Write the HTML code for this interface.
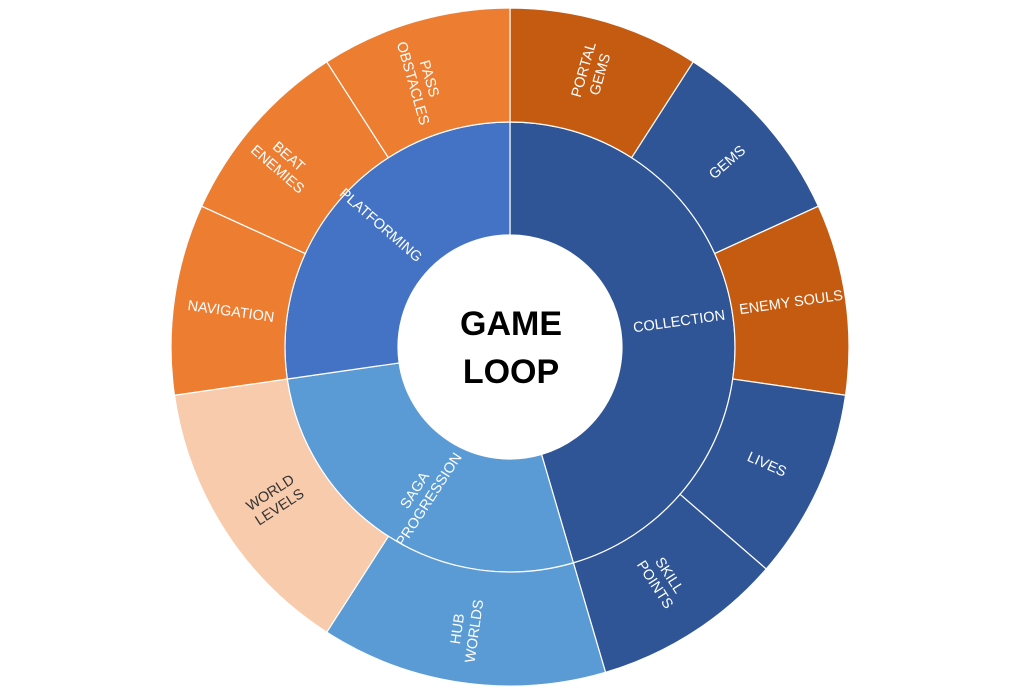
<!DOCTYPE html>
<html><head><meta charset="utf-8"><style>
html,body{margin:0;padding:0;background:#fff;width:1023px;height:694px;overflow:hidden}
svg{display:block}
text{font-family:"Liberation Sans",Arial,sans-serif;font-size:14.5px;fill:#fff;text-anchor:middle}
</style></head><body>
<svg id="s" width="1023" height="694" viewBox="0 0 1023 694">
<g id="arcs"></g>
<circle cx="510" cy="347" r="112" fill="#fff"/>
<g>
<text transform="translate(592,72) rotate(-74)"><tspan x="0" y="-4">PORTAL</tspan><tspan x="0" y="13">GEMS</tspan></text>
<text transform="translate(727,162) rotate(-41)" y="5">GEMS</text>
<text transform="translate(791,302) rotate(-8)" y="5">ENEMY SOULS</text>
<text transform="translate(767,464) rotate(24)" y="5">LIVES</text>
<text transform="translate(662,580) rotate(57)"><tspan x="0" y="-4">SKILL</tspan><tspan x="0" y="13">POINTS</tspan></text>
<text transform="translate(466,630) rotate(-82)"><tspan x="0" y="-4">HUB</tspan><tspan x="0" y="13">WORLDS</tspan></text>
<text transform="translate(275,500) rotate(-33)" style="fill:#333"><tspan x="0" y="-4">WORLD</tspan><tspan x="0" y="13">LEVELS</tspan></text>
<text transform="translate(231,311) rotate(8)" y="5">NAVIGATION</text>
<text transform="translate(283,163) rotate(41)"><tspan x="0" y="-4">BEAT</tspan><tspan x="0" y="13">ENEMIES</tspan></text>
<text transform="translate(421,81) rotate(74)"><tspan x="0" y="-4">PASS</tspan><tspan x="0" y="13">OBSTACLES</tspan></text>
<text transform="translate(381,225) rotate(41)" y="5">PLATFORMING</text>
<text transform="translate(679,321) rotate(-8)" y="5">COLLECTION</text>
<text transform="translate(422,495) rotate(-57)"><tspan x="0" y="-4">SAGA</tspan><tspan x="0" y="13">PROGRESSION</tspan></text>
<text x="511" y="335" style="fill:#000;font-size:34px;font-weight:bold">GAME</text>
<text x="511" y="383" style="fill:#000;font-size:34px;font-weight:bold">LOOP</text>
</g>
</svg>
<script>
var cx=510,cy=347,u=360/11;
function pt(r,a){a=a*Math.PI/180;return [cx+r*Math.sin(a),cy-r*Math.cos(a)];}
function seg(r0,r1,a0,a1,c){var l=(a1-a0)>180?1:0;var p1=pt(r1,a0),p2=pt(r1,a1),p3=pt(r0,a1),p4=pt(r0,a0);
return '<path d="M'+p1+' A'+r1+','+r1+' 0 '+l+' 1 '+p2+' L'+p3+' A'+r0+','+r0+' 0 '+l+' 0 '+p4+'Z" fill="'+c+'" stroke="#fff" stroke-width="1.2"/>';}
var h='';
h+=seg(112,225,0,5*u,'#2F5597');
h+=seg(112,225,5*u,8*u,'#5B9BD5');
h+=seg(112,225,8*u,11*u,'#4472C4');
var o=[['#C55A11',1],['#2F5597',1],['#C55A11',1],['#2F5597',1],['#2F5597',1],['#5B9BD5',1.5],['#F8CBAD',1.5],['#ED7D31',1],['#ED7D31',1],['#ED7D31',1]];
var a=0;o.forEach(function(x){h+=seg(225,339,a*u,(a+x[1])*u,x[0]);a+=x[1];});
document.getElementById('arcs').innerHTML=h;
</script>
</body></html>
